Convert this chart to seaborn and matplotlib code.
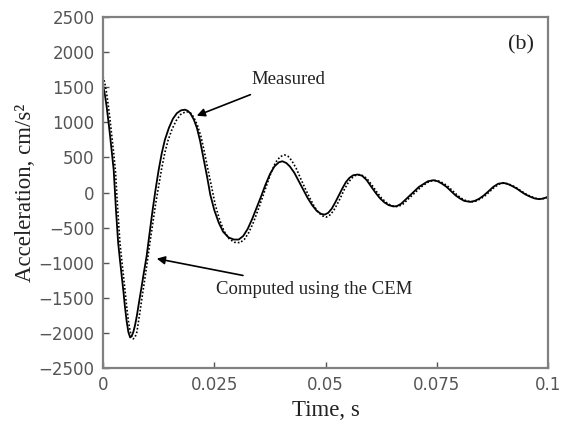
import matplotlib
matplotlib.use("Agg")
import matplotlib.pyplot as plt
import seaborn as sns
import pandas as pd

# Computed using the CEM (solid)
t_computed = [0.0000, 0.0004, 0.0008, 0.0012, 0.0016, 0.0020, 0.0024, 0.0029, 0.0034, 0.0038,
              0.0042, 0.0046, 0.0049, 0.0053, 0.0057, 0.0061, 0.0064, 0.0068, 0.0072, 0.0076,
              0.0081, 0.0087, 0.0092, 0.0098, 0.0104, 0.0111, 0.0118, 0.0125, 0.0132, 0.0139,
              0.0148, 0.0157, 0.0166, 0.0175, 0.0184, 0.0190, 0.0196, 0.0204, 0.0211, 0.0218,
              0.0226, 0.0234, 0.0241, 0.0250, 0.0260, 0.0270, 0.0282, 0.0294, 0.0305, 0.0315,
              0.0325, 0.0335, 0.0345, 0.0355, 0.0365, 0.0375, 0.0385, 0.0395, 0.0403, 0.0412,
              0.0420, 0.0430, 0.0440, 0.0450, 0.0460, 0.0470, 0.0480, 0.0490, 0.0498, 0.0506,
              0.0514, 0.0522, 0.0530, 0.0538, 0.0546, 0.0554, 0.0562, 0.0572, 0.0582, 0.0592,
              0.0602, 0.0612, 0.0622, 0.0632, 0.0642, 0.0652, 0.0660, 0.0670, 0.0680, 0.0690,
              0.0700, 0.0710, 0.0720, 0.0730, 0.0742, 0.0752, 0.0762, 0.0772, 0.0782, 0.0792,
              0.0802, 0.0812, 0.0825, 0.0835, 0.0845, 0.0855, 0.0865, 0.0877, 0.0888, 0.0900,
              0.0910, 0.0920, 0.0930, 0.0940, 0.0950, 0.0960, 0.0970, 0.0980, 0.0990, 0.1000]
a_computed = [1530, 1400, 1230, 1020, 800, 560, 320, -240, -715, -960,
              -1190, -1420, -1615, -1830, -1990, -2065, -2050, -1990, -1890, -1757,
              -1560, -1331, -1130, -905, -610, -270, 40, 320, 560, 750,
              920, 1050, 1130, 1170, 1180, 1165, 1130, 1040, 920, 740,
              480, 220, -30, -250, -430, -560, -640, -670, -670, -620,
              -520, -380, -220, -60, 110, 260, 370, 430, 445, 420,
              370, 280, 160, 40, -80, -180, -260, -305, -315, -290,
              -230, -140, -40, 60, 150, 210, 245, 256, 240, 180,
              90, 0, -80, -140, -180, -198, -195, -160, -100, -40,
              20, 80, 120, 160, 175, 160, 125, 80, 20, -40,
              -85, -120, -133, -120, -90, -45, 10, 80, 125, 137,
              120, 90, 55, 10, -30, -60, -85, -95, -85, -60]

# Measured (dotted)
t_measured = [0.0000, 0.0004, 0.0008, 0.0012, 0.0016, 0.0020, 0.0024, 0.0028, 0.0033, 0.0038,
              0.0042, 0.0046, 0.0050, 0.0053, 0.0057, 0.0061, 0.0065, 0.0068, 0.0072, 0.0076,
              0.0083, 0.0088, 0.0094, 0.0100, 0.0105, 0.0112, 0.0118, 0.0125, 0.0132, 0.0139,
              0.0146, 0.0155, 0.0164, 0.0174, 0.0184, 0.0192, 0.0198, 0.0204, 0.0212, 0.0220,
              0.0228, 0.0236, 0.0244, 0.0252, 0.0262, 0.0272, 0.0284, 0.0296, 0.0308, 0.0318,
              0.0328, 0.0338, 0.0348, 0.0358, 0.0368, 0.0378, 0.0388, 0.0398, 0.0408, 0.0416,
              0.0424, 0.0434, 0.0444, 0.0454, 0.0464, 0.0474, 0.0484, 0.0494, 0.0502, 0.0510,
              0.0518, 0.0526, 0.0534, 0.0542, 0.0550, 0.0558, 0.0566, 0.0576, 0.0586, 0.0596,
              0.0606, 0.0616, 0.0626, 0.0636, 0.0646, 0.0656, 0.0664, 0.0674, 0.0684, 0.0694,
              0.0704, 0.0714, 0.0724, 0.0734, 0.0746, 0.0756, 0.0766, 0.0776, 0.0786, 0.0796,
              0.0806, 0.0816, 0.0828, 0.0838, 0.0848, 0.0858, 0.0868, 0.0880, 0.0891, 0.0902,
              0.0912, 0.0922, 0.0932, 0.0942, 0.0952, 0.0962, 0.0972, 0.0982, 0.0992, 0.1000]
a_measured = [1650, 1560, 1420, 1230, 1020, 790, 560, 300, -240, -715,
              -960, -1190, -1430, -1615, -1830, -1980, -2060, -2085, -2060, -1990,
              -1700, -1480, -1230, -960, -730, -430, -170, 90, 350, 570,
              740, 900, 1020, 1110, 1145, 1150, 1125, 1070, 960, 800,
              570, 320, 80, -170, -390, -550, -665, -710, -715, -665,
              -565, -425, -255, -75, 110, 290, 430, 510, 535, 515,
              455, 345, 200, 60, -70, -190, -285, -335, -350, -320,
              -260, -170, -70, 40, 130, 200, 240, 255, 235, 175,
              90, 0, -80, -140, -180, -200, -198, -165, -105, -45,
              15, 75, 120, 160, 172, 160, 128, 82, 22, -38,
              -85, -118, -135, -122, -92, -48, 8, 78, 122, 135,
              120, 92, 55, 12, -28, -58, -82, -92, -84, -70]

x_ticks = [0, 0.025, 0.05, 0.075, 0.1]
x_tick_labels = ["0", "0.025", "0.05", "0.075", "0.1"]
y_ticks = [-2500, -2000, -1500, -1000, -500, 0, 500, 1000, 1500, 2000, 2500]

df_c = pd.DataFrame({"t": t_computed, "a": a_computed})
df_m = pd.DataFrame({"t": t_measured, "a": a_measured})

sns.set_style("white")
plt.rcParams["font.family"] = ["DejaVu Sans"]

fig = plt.figure(figsize=(5.73, 4.21), dpi=100)
ax = fig.add_axes([0.1798, 0.1259, 0.7766, 0.8337])

sns.lineplot(data=df_m, x="t", y="a", ax=ax, color="black", lw=1.2,
             linestyle=(0, (1.0, 1.2)), sort=False, estimator=None)
sns.lineplot(data=df_c, x="t", y="a", ax=ax, color="black", lw=1.3,
             sort=False, estimator=None)

ax.set_xlim(0, 0.1)
ax.set_ylim(-2500, 2500)
ax.set_xticks(x_ticks)
ax.set_xticklabels(x_tick_labels)
ax.set_yticks(y_ticks)

for s in ax.spines.values():
    s.set_color("#808080")
    s.set_linewidth(1.6)

ax.tick_params(axis="both", direction="in", length=4, width=1.0, color="#555555",
               labelsize=12, labelcolor="#555555", pad=6,
               top=False, right=False, left=True, bottom=True)

serif = ["Liberation Serif", "DejaVu Serif"]
ax.set_xlabel("Time, s", fontsize=16.5, family=serif, color="#222222", labelpad=4)
ax.set_ylabel("Acceleration, cm/s\u00b2", fontsize=16.5, family=serif, color="#222222", labelpad=2)

ax.annotate("Measured", xy=(0.02106, 1094), xytext=(0.0333, 1605),
            fontsize=13.5, family=serif, color="#222222", va="center", ha="left",
            arrowprops=dict(arrowstyle="-|>", color="black", lw=1.2, mutation_scale=12,
                            shrinkA=6, shrinkB=0))
ax.annotate("Computed using the CEM", xy=(0.01207, -942), xytext=(0.0254, -1380),
            fontsize=13.5, family=serif, color="#222222", va="center", ha="left",
            arrowprops=dict(arrowstyle="-|>", color="black", lw=1.2, mutation_scale=12,
                            shrinkA=8, shrinkB=0))
ax.text(0.0939, 2102, "(b)", fontsize=16, family=serif, color="#222222",
        ha="center", va="center")

fig.savefig("out.png", dpi=100)
